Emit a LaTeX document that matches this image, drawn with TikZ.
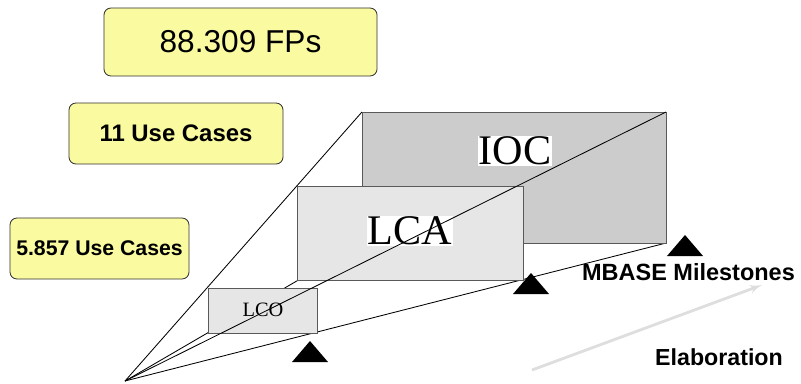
\documentclass[tikz,border=0pt]{standalone}
\usepackage{fontspec}
\setmainfont{Liberation Serif}
\setsansfont{Liberation Sans}
\usetikzlibrary{arrows}

\definecolor{noteyellow}{RGB}{250,250,160}
\definecolor{iocgray}{RGB}{204,204,204}
\definecolor{lcagray}{RGB}{230,230,230}
\definecolor{elabgray}{RGB}{222,222,222}

\begin{document}
\begin{tikzpicture}[x=0.025cm,y=-0.025cm,>=latex',semithick,
                    note/.style={draw=black!80,fill=noteyellow,rounded corners=5pt,
                                 inner sep=0pt,outer sep=0pt},
                    stage/.style={draw=black!65,inner sep=0pt,outer sep=0pt},
                    tag/.style={inner sep=0.5pt,font=\fontsize{30}{34}\selectfont},
                    bold/.style={font=\sffamily\bfseries\fontsize{16.7}{20}\selectfont}]
  \useasboundingbox (0,0) rectangle (801,383);

  % sizes
  \node[note,minimum width=6.825cm,minimum height=1.7cm,
        font=\sffamily\fontsize{22.5}{27}\selectfont]   (fps)  at (240.5,42)  {88.309 FPs};
  \node[note,minimum width=5.35cm,minimum height=1.525cm,
        font=\sffamily\bfseries\fontsize{17}{20}\selectfont] (uc11) at (176,133.5) {11 Use Cases};
  \node[note,minimum width=4.475cm,minimum height=1.525cm,
        font=\sffamily\bfseries\fontsize{15.1}{18}\selectfont] (uc5) at (99.5,248.5) {5.857 Use Cases};

  \coordinate (apex) at (125,381);

  % milestone boxes
  \node[stage,fill=iocgray,minimum width=7.6cm,minimum height=3.275cm]   (ioc) at (514,177.5) {};
  \path (apex) edge (ioc.north west)
               edge (ioc.south west)
               edge (ioc.south east);
  \node[stage,fill=iocgray,minimum width=7.6cm,minimum height=3.275cm]   at (ioc) {};
  \node[stage,fill=lcagray,minimum width=5.65cm,minimum height=2.35cm]   (lca) at (410,233) {};
  \node[stage,fill=lcagray,minimum width=2.725cm,minimum height=1.125cm] (lco) at (262.5,310.5) {};

  \node[tag,fill=white] (ioclabel) at (515,151) {IOC};
  \node[tag,fill=white] (lcalabel) at (410,231) {LCA};
  \node[tag,font=\fontsize{14.5}{17}\selectfont] (lcolabel) at (263,310) {LCO};

  \draw (apex) -- (ioc.north east);

  \foreach \x/\y in {310/341, 531/273, 685/235}
    \fill (\x,\y) -- ++(-18,21) -- ++(36,0) -- cycle;

  \node[bold] (mbase) at (688.5,272.5) {MBASE Milestones};
  \node[bold,font=\sffamily\bfseries\fontsize{16.5}{20}\selectfont] (elab) at (719,357) {Elaboration};

  \coordinate (elabstart) at (532,370);
  \coordinate (elabend)   at (762,285);
  \draw[->,line width=2pt,draw=elabgray] (elabstart) -- (elabend);
\end{tikzpicture}
\end{document}
